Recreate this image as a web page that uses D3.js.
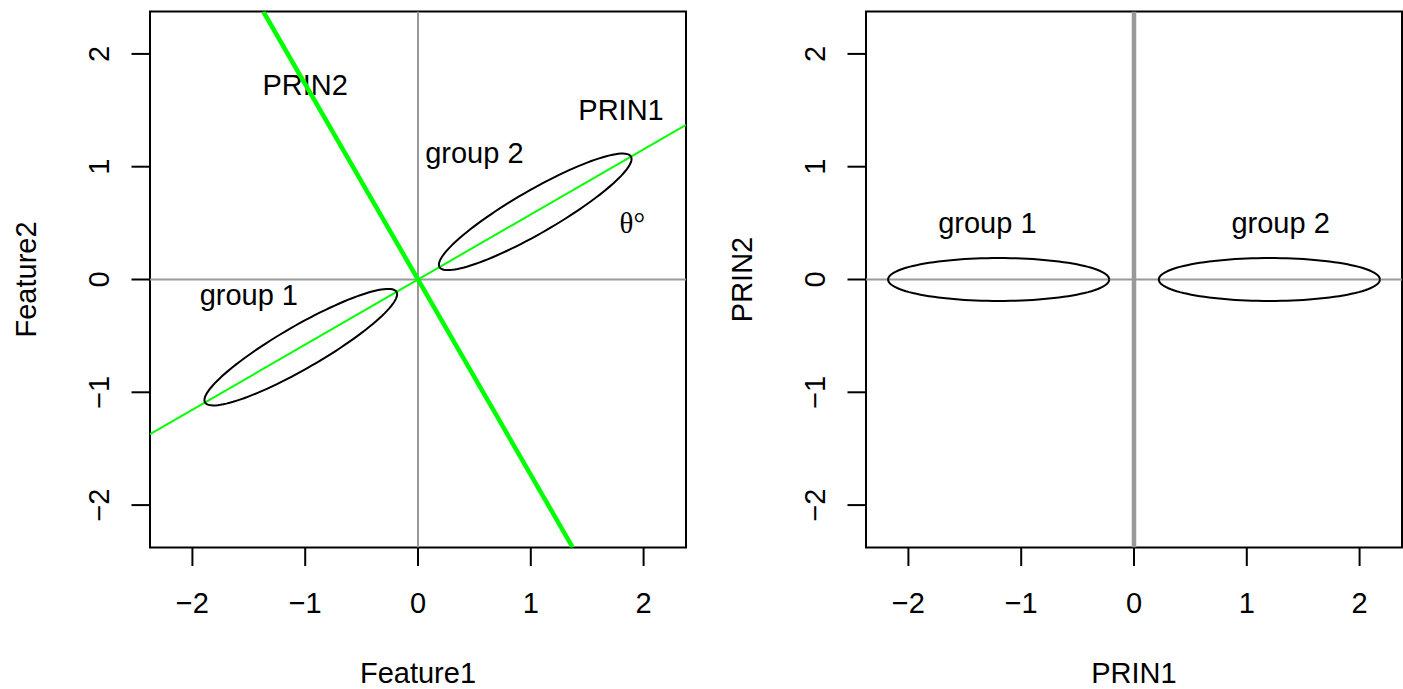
<!DOCTYPE html>
<html>
<head>
<meta charset="utf-8">
<script src="https://cdn.jsdelivr.net/npm/d3@7"></script>
<style>
  body { margin: 0; background: #fff; }
  text { font-family: "Liberation Sans", Arial, sans-serif; fill: #000; }
</style>
</head>
<body>
<svg id="chart" width="1403" height="689"></svg>
<script>
// data
const ticks = [-2, -1, 0, 1, 2]
const groupCenters = [-1.2, 1.2]      // along PRIN1
const semiAxes = [0.98, 0.19]          // ellipse half-length / half-width
const thetaDeg = 30                    // rotation of PRIN1 vs Feature1
const leftLabels = [
  { text: 'PRIN2', x: -1, y: 1.72 },
  { text: 'PRIN1', x: 1.8, y: 1.5 },
  { text: 'group 2', x: 0.5, y: 1.12 },
  { text: 'group 1', x: -1.5, y: -0.14 }
]
const thetaLabel = { text: 'θ°', x: 1.9, y: 0.5 }
const rightLabels = [
  { text: 'group 1', x: -1.3, y: 0.5 },
  { text: 'group 2', x: 1.3, y: 0.5 }
]

const lim = 2.376
const fs = 29
const svg = d3.select('#chart')

function panel(left, xTitle, yTitle, id) {
  const x = d3.scaleLinear().domain([-lim, lim]).range([left, left + 536])
  const y = d3.scaleLinear().domain([-lim, lim]).range([547.5, 11.5])
  const g = svg.append('g')

  svg.append('clipPath').attr('id', id)
    .append('rect').attr('x', left).attr('y', 11.5).attr('width', 536).attr('height', 536)

  // ticks
  g.selectAll('.xt').data(ticks).enter().append('line')
    .attr('x1', d => x(d)).attr('x2', d => x(d))
    .attr('y1', 547.5).attr('y2', 566)
    .attr('stroke', '#000').attr('stroke-width', 2)
  g.selectAll('.xl').data(ticks).enter().append('text')
    .attr('x', d => x(d)).attr('y', 613)
    .attr('text-anchor', 'middle').style('font-size', fs + 'px')
    .text(d => d < 0 ? '\u2212' + Math.abs(d) : d)
  g.selectAll('.yt').data(ticks).enter().append('line')
    .attr('x1', left).attr('x2', left - 18.5)
    .attr('y1', d => y(d)).attr('y2', d => y(d))
    .attr('stroke', '#000').attr('stroke-width', 2)
  g.selectAll('.yl').data(ticks).enter().append('text')
    .attr('transform', d => `translate(${left - 41.5},${y(d)}) rotate(-90)`)
    .attr('text-anchor', 'middle').style('font-size', fs + 'px')
    .text(d => d < 0 ? '\u2212' + Math.abs(d) : d)

  // axis titles
  g.append('text').attr('x', x(0)).attr('y', 683)
    .attr('text-anchor', 'middle').style('font-size', fs + 'px').text(xTitle)
  g.append('text')
    .attr('transform', `translate(${left - 114.5},${y(0)}) rotate(-90)`)
    .attr('text-anchor', 'middle').style('font-size', fs + 'px').text(yTitle)

  const plot = svg.append('g').attr('clip-path', `url(#${id})`)
  return { x, y, g, plot }
}

function ellipsePts(cx, angle) {
  const t = angle * Math.PI / 180
  return d3.range(0, 361, 3).map(a => {
    const r = a * Math.PI / 180
    const u = cx + semiAxes[0] * Math.cos(r)
    const v = semiAxes[1] * Math.sin(r)
    return [u * Math.cos(t) - v * Math.sin(t), u * Math.sin(t) + v * Math.cos(t)]
  })
}

// ---- left panel
const L = panel(150, 'Feature1', 'Feature2', 'clipL')
const lineL = d3.line().x(d => L.x(d[0])).y(d => L.y(d[1]))
const slope = Math.tan(thetaDeg * Math.PI / 180)

L.plot.append('line').attr('x1', L.x(-lim)).attr('x2', L.x(lim))
  .attr('y1', L.y(0)).attr('y2', L.y(0)).attr('stroke', '#999').attr('stroke-width', 2)
L.plot.append('line').attr('x1', L.x(0)).attr('x2', L.x(0))
  .attr('y1', L.y(-lim)).attr('y2', L.y(lim)).attr('stroke', '#999').attr('stroke-width', 2)

L.plot.append('path').datum([[-lim, -lim * slope], [lim, lim * slope]])
  .attr('d', lineL).attr('stroke', '#00ff00').attr('stroke-width', 2).attr('fill', 'none')
L.plot.append('path').datum([[lim * slope, -lim], [-lim * slope, lim]])
  .attr('d', lineL).attr('stroke', '#00ff00').attr('stroke-width', 4.5).attr('fill', 'none')

groupCenters.forEach(c => {
  L.plot.append('path').datum(ellipsePts(c, thetaDeg))
    .attr('d', lineL).attr('stroke', '#000').attr('stroke-width', 2).attr('fill', 'none')
})

L.g.selectAll('.lab').data(leftLabels).enter().append('text')
  .attr('x', d => L.x(d.x)).attr('y', d => L.y(d.y) + 10)
  .attr('text-anchor', 'middle').style('font-size', fs + 'px').text(d => d.text)
L.g.append('text').attr('x', L.x(thetaLabel.x)).attr('y', L.y(thetaLabel.y) + 10)
  .attr('text-anchor', 'middle').style('font-size', fs + 'px')
  .style('font-family', '"Liberation Serif", "DejaVu Serif", serif').text(thetaLabel.text)

L.g.append('rect').attr('x', 150).attr('y', 11.5).attr('width', 536).attr('height', 536)
  .attr('fill', 'none').attr('stroke', '#000').attr('stroke-width', 2)

// ---- right panel
const R = panel(866, 'PRIN1', 'PRIN2', 'clipR')
const lineR = d3.line().x(d => R.x(d[0])).y(d => R.y(d[1]))

R.plot.append('line').attr('x1', R.x(-lim)).attr('x2', R.x(lim))
  .attr('y1', R.y(0)).attr('y2', R.y(0)).attr('stroke', '#999').attr('stroke-width', 2)
R.plot.append('line').attr('x1', R.x(0)).attr('x2', R.x(0))
  .attr('y1', R.y(-lim)).attr('y2', R.y(lim)).attr('stroke', '#999').attr('stroke-width', 4.5)

groupCenters.forEach(c => {
  R.plot.append('path').datum(ellipsePts(c, 0))
    .attr('d', lineR).attr('stroke', '#000').attr('stroke-width', 2).attr('fill', 'none')
})

R.g.selectAll('.lab').data(rightLabels).enter().append('text')
  .attr('x', d => R.x(d.x)).attr('y', d => R.y(d.y) + 10)
  .attr('text-anchor', 'middle').style('font-size', fs + 'px').text(d => d.text)

R.g.append('rect').attr('x', 866).attr('y', 11.5).attr('width', 536).attr('height', 536)
  .attr('fill', 'none').attr('stroke', '#000').attr('stroke-width', 2)
</script>
</body>
</html>
